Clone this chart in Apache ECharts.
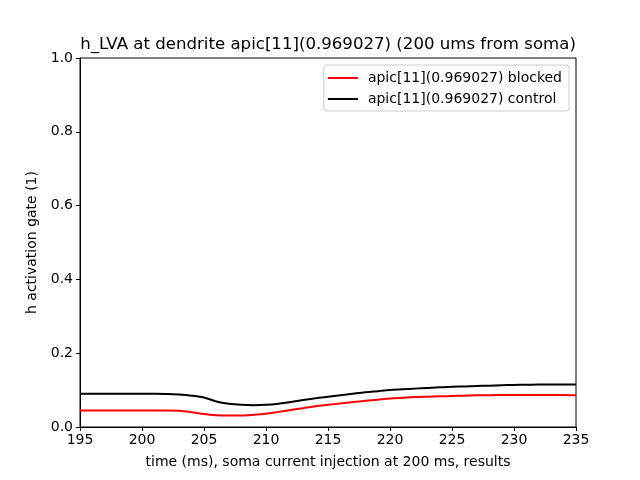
<!DOCTYPE html>
<html>
<head>
<meta charset="utf-8">
<script src="https://cdn.jsdelivr.net/npm/echarts@6/dist/echarts.min.js"></script>
<style>
  html, body { margin: 0; padding: 0; background: #fff; }
  #chart { width: 640px; height: 480px; }
</style>
</head>
<body>
<div id="chart"></div>
<script>
// time (ms)
const times = [195, 196, 197, 198, 199, 200, 201, 202, 203, 204, 205, 206, 207, 208, 209, 210,
  211, 212, 213, 214, 215, 216, 217, 218, 219, 220, 221, 222, 223, 224, 225,
  226, 227, 228, 229, 230, 231, 232, 233, 234, 235];

const blocked = [0.045, 0.045, 0.045, 0.045, 0.045, 0.045, 0.045, 0.045, 0.044, 0.040, 0.035, 0.032, 0.031, 0.031, 0.033, 0.036,
  0.041, 0.046, 0.051, 0.056, 0.060, 0.064, 0.068, 0.071, 0.074, 0.077, 0.079, 0.081, 0.082, 0.083, 0.084,
  0.085, 0.086, 0.086, 0.087, 0.087, 0.087, 0.087, 0.087, 0.087, 0.086];

const control = [0.090, 0.090, 0.090, 0.090, 0.090, 0.090, 0.090, 0.0895, 0.088, 0.085, 0.080, 0.069, 0.063, 0.060, 0.059, 0.060,
  0.063, 0.068, 0.073, 0.078, 0.082, 0.086, 0.090, 0.094, 0.097, 0.100, 0.102, 0.104, 0.106, 0.108, 0.109,
  0.110, 0.111, 0.112, 0.113, 0.114, 0.1145, 0.115, 0.115, 0.115, 0.115];

const seriesNames = ["apic[11](0.969027) blocked", "apic[11](0.969027) control"];

const chart = echarts.init(document.getElementById("chart"), null, { renderer: "canvas" });
const font = "DejaVu Sans";

const option = {
  animation: false,
  backgroundColor: "#ffffff",
  title: {
    text: "h_LVA at dendrite apic[11](0.969027) (200 ums from soma)",
    left: 328,
    textAlign: "center",
    top: 36,
    padding: 0,
    textStyle: { fontFamily: font, fontSize: 16.6, fontWeight: "normal", color: "#000" }
  },
  grid: {
    left: 80, right: 64, top: 58, bottom: 53,
    show: true, borderColor: "#000", borderWidth: 1, backgroundColor: "transparent"
  },
  legend: {
    orient: "vertical",
    right: 71,
    top: 65,
    padding: [6, 7, 5, 4],
    itemGap: 7,
    icon: "rect",
    itemWidth: 30,
    itemHeight: 2,
    borderColor: "#cccccc",
    borderWidth: 1,
    borderRadius: 3,
    textStyle: { fontFamily: font, fontSize: 14, color: "#000", padding: [0, 0, 0, 5] },
    data: seriesNames
  },
  xAxis: {
    type: "value",
    min: 195, max: 235, interval: 5,
    name: "time (ms), soma current injection at 200 ms, results",
    nameLocation: "middle",
    nameGap: 28,
    nameTextStyle: { fontFamily: font, fontSize: 14, color: "#000" },
    axisLine: { show: true, lineStyle: { color: "#000" } },
    axisTick: { show: true, length: 4, lineStyle: { color: "#000" } },
    axisLabel: { fontFamily: font, fontSize: 14, color: "#000", margin: 6 },
    splitLine: { show: false }
  },
  yAxis: {
    type: "value",
    min: 0, max: 1, interval: 0.2,
    name: "h activation gate (1)",
    nameLocation: "middle",
    nameGap: 39,
    nameTextStyle: { fontFamily: font, fontSize: 14, color: "#000" },
    axisLine: { show: true, lineStyle: { color: "#000" } },
    axisTick: { show: true, length: 4, lineStyle: { color: "#000" } },
    axisLabel: {
      fontFamily: font, fontSize: 14, color: "#000", margin: 7,
      formatter: (v) => v.toFixed(1)
    },
    splitLine: { show: false }
  },
  series: [
    {
      name: seriesNames[0],
      type: "line",
      data: times.map((t, i) => [t, blocked[i]]),
      smooth: 0.3,
      symbol: "none",
      lineStyle: { color: "#ff0000", width: 2 },
      itemStyle: { color: "#ff0000" }
    },
    {
      name: seriesNames[1],
      type: "line",
      data: times.map((t, i) => [t, control[i]]),
      smooth: 0.3,
      symbol: "none",
      lineStyle: { color: "#000000", width: 2 },
      itemStyle: { color: "#000000" }
    }
  ]
};

chart.setOption(option);
</script>
</body>
</html>
